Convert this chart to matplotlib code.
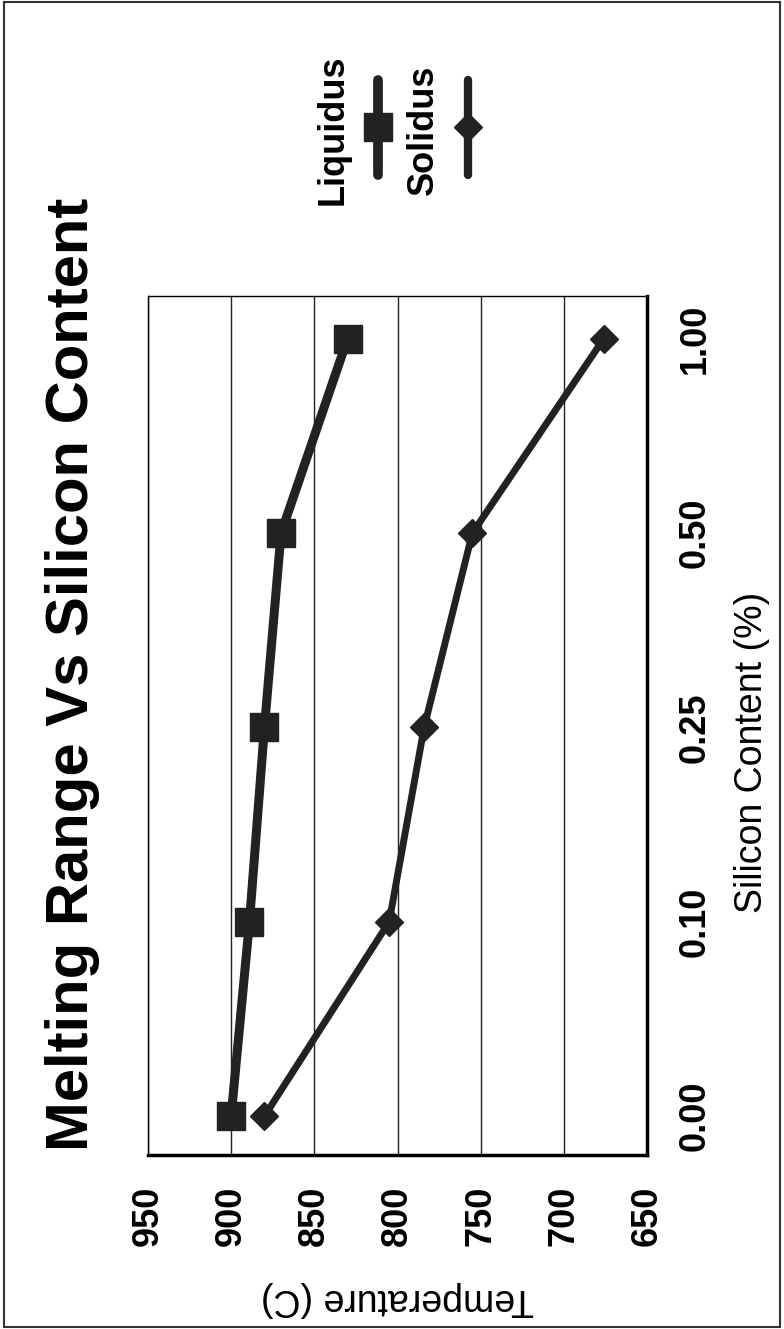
#!/usr/bin/env python3

import numpy as np
from matplotlib import pyplot as plt
from matplotlib.lines import Line2D
from matplotlib.patches import Rectangle

# data
silicon = ['0.00', '0.10', '0.25', '0.50', '1.00']
liquidus = [900, 889, 880, 870, 830]
solidus = [880, 805, 784, 755, 676]
temp_ticks = [950, 900, 850, 800, 750, 700, 650]

plt.rcParams['font.family'] = ['Liberation Sans', 'DejaVu Sans']

W, H = 784, 1329
fig = plt.figure(figsize=(W / 100, H / 100), dpi=100)
fig.patch.set_facecolor('white')

def fx(px):
    return px / W

def fy(py):
    return 1 - py / H

# chart is printed sideways: temperature runs across, silicon runs up
ax = fig.add_axes([fx(148), fy(1155), fx(647) - fx(148), fy(296) - fy(1155)])
pos = np.arange(len(silicon))

ax.plot(liquidus, pos, color='#222222', lw=6.5, marker='s', ms=20,
        solid_joinstyle='round', zorder=3)
ax.plot(solidus, pos, color='#222222', lw=5, marker='D', ms=14,
        solid_joinstyle='round', zorder=3)

ax.set_xlim(950, 650)
ax.set_ylim(-0.2, 4.22)
ax.set_xticks(temp_ticks)
ax.set_xticklabels([str(t) for t in temp_ticks], rotation=90,
                   fontsize=26, fontweight='bold')
ax.set_yticks(pos)
ax.set_yticklabels(silicon, rotation=90, va='center',
                   fontsize=26, fontweight='bold')
ax.yaxis.tick_right()
ax.tick_params(axis='x', length=0, pad=22)
ax.tick_params(axis='y', length=0, pad=22)
ax.grid(axis='x', color='#222222', lw=1.0)
ax.set_axisbelow(True)

for s in ['left', 'top']:
    ax.spines[s].set_linewidth(1.0)
for s in ['right', 'bottom']:
    ax.spines[s].set_linewidth(2.5)

# axis titles
fig.text(fx(397), fy(1299), 'Temperature (C)', rotation=180,
         ha='center', va='center', fontsize=27)
fig.text(fx(752), fy(752), 'Silicon Content (%)', rotation=90,
         ha='center', va='center', fontsize=27)

# main title
fig.text(fx(73), fy(674), 'Melting Range Vs Silicon Content', rotation=90,
         ha='center', va='center', fontsize=43, fontweight='bold')

# legend, drawn by hand since it is sideways too
fig.text(fx(333), fy(130), 'Liquidus', rotation=90, ha='center', va='center',
         fontsize=26, fontweight='bold')
fig.text(fx(423), fy(130), 'Solidus', rotation=90, ha='center', va='center',
         fontsize=26, fontweight='bold')
fig.add_artist(Line2D([fx(378), fx(378)], [fy(80), fy(175)], color='#222222',
                      lw=7, solid_capstyle='round'))
fig.add_artist(Line2D([fx(378)], [fy(127)], marker='s', ms=20, color='#222222'))
fig.add_artist(Line2D([fx(468), fx(468)], [fy(80), fy(175)], color='#222222',
                      lw=6, solid_capstyle='round'))
fig.add_artist(Line2D([fx(468)], [fy(127)], marker='D', ms=14, color='#222222'))

# page border
fig.add_artist(Rectangle((fx(4), fy(1327)), fx(776), 1325 / H, fill=False,
                         edgecolor='#333333', lw=1.5))

fig.savefig('out.png', dpi=100)
plt.close()
